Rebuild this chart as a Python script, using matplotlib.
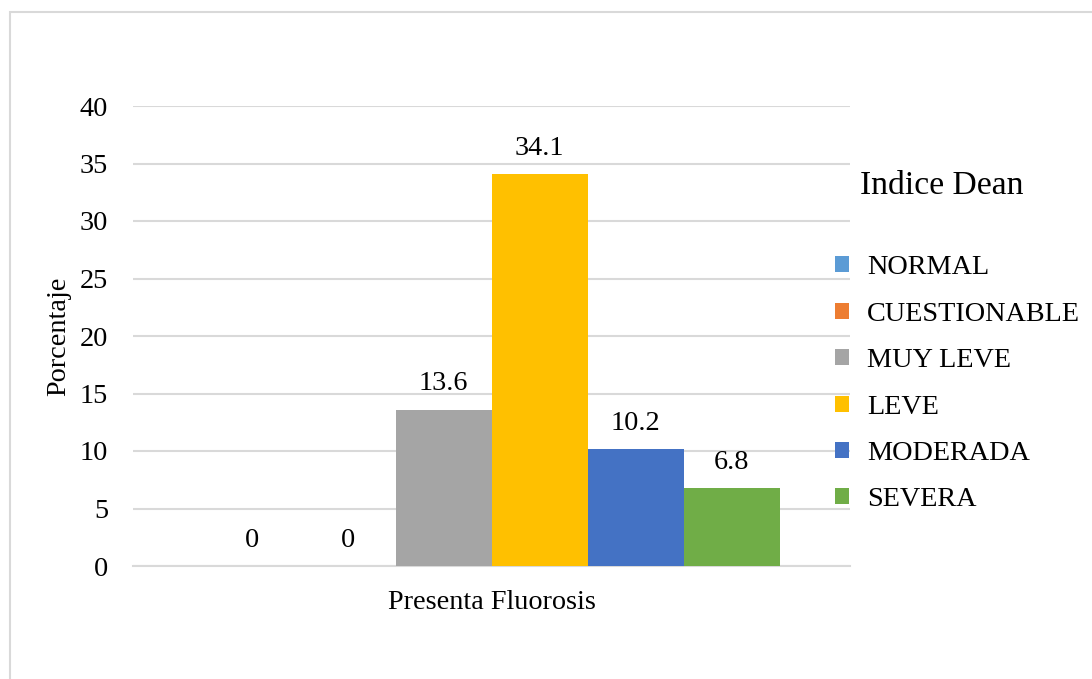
import matplotlib.pyplot as plt
from matplotlib.patches import Rectangle

categories = ["Presenta Fluorosis"]
series = ["NORMAL", "CUESTIONABLE", "MUY LEVE", "LEVE", "MODERADA", "SEVERA"]
values = [0, 0, 13.6, 34.1, 10.2, 6.8]
labels = ["0", "0", "13.6", "34.1", "10.2", "6.8"]
colors = ["#5B9BD5", "#ED7D31", "#A5A5A5", "#FFC000", "#4472C4", "#70AD47"]

plt.rcParams['font.family'] = ['Liberation Serif', 'DejaVu Serif']
fs = 20.3

fig = plt.figure(figsize=(10.92, 6.79), dpi=100)
# outer chart border (cropped at right and bottom)
fig.patches.append(Rectangle((10 / 1092, -0.05), 1.2, 1 - 12 / 679 + 0.05,
                             transform=fig.transFigure, fill=False,
                             edgecolor="#D9D9D9", linewidth=1.5))

ax = fig.add_axes([133 / 1092, 1 - 566 / 679, 717 / 1092, 460 / 679])
width = 96 / 717
n = len(series)
handles = []
for i, (name, v, lab, c) in enumerate(zip(series, values, labels, colors)):
    x = (i - (n - 1) / 2) * width
    b = ax.bar(x, v, width=width, color=c, label=name, zorder=3)
    handles.append(b)
    ax.annotate(lab, (x, v), xytext=(0, 9.5), textcoords="offset points",
                ha="center", va="bottom", fontsize=fs)

ax.set_xlim(-0.5, 0.5)
ax.set_ylim(0, 40)
ax.set_yticks(range(0, 41, 5))
ax.set_xticks([0])
ax.set_xticklabels(categories, fontsize=fs)
ax.tick_params(axis="y", length=0, labelsize=fs, pad=18)
ax.tick_params(axis="x", length=0, pad=17)
ax.grid(axis="y", color="#D9D9D9", linewidth=1.5, zorder=0)
for s in ["top", "right", "left"]:
    ax.spines[s].set_visible(False)
ax.spines["bottom"].set_color("#D9D9D9")
ax.spines["bottom"].set_linewidth(1.5)
ax.set_ylabel("Porcentaje", fontsize=fs, labelpad=6)

fig.text(860 / 1092, 1 - 186 / 679, "Indice Dean", fontsize=24.2, va="center", ha="left")
fig.legend(handles=handles, labels=series, loc="upper left",
           bbox_to_anchor=(824 / 1092, 1 - 244 / 679), frameon=False,
           fontsize=fs, handlelength=0.5, handleheight=0.5,
           handletextpad=0.62, labelspacing=0.76, borderaxespad=0)

fig.savefig("out.png", dpi=100)
